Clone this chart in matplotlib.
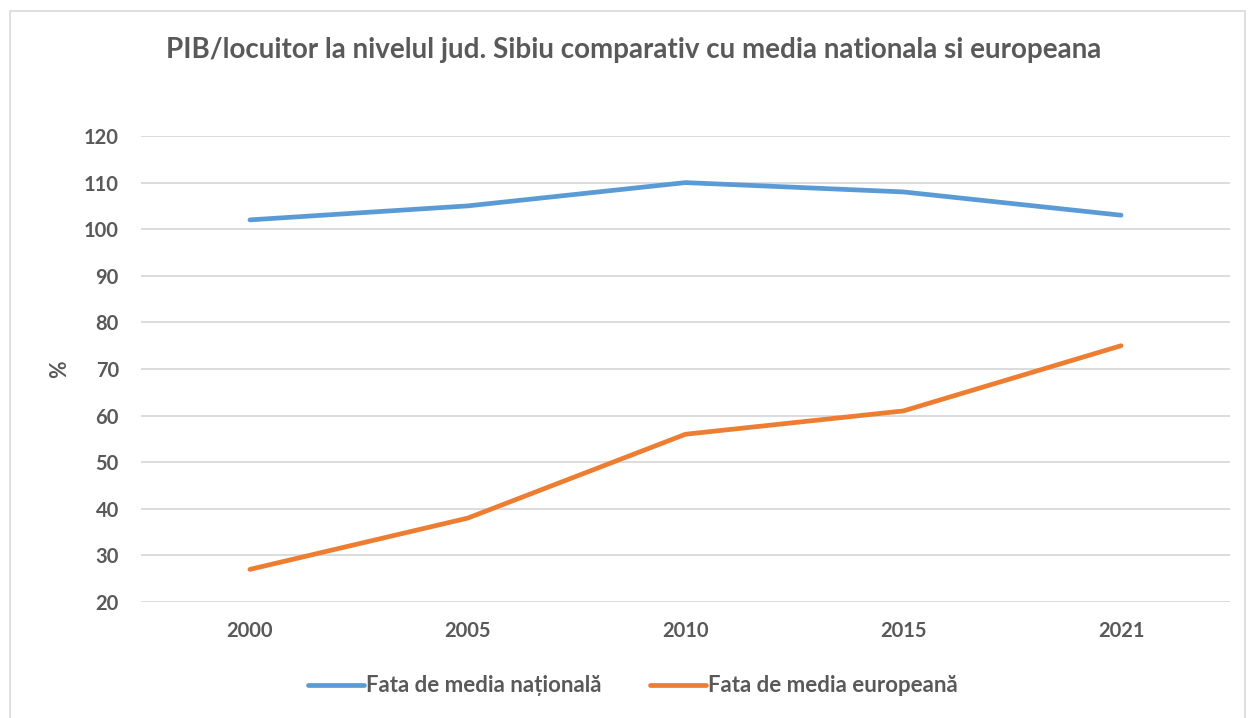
import matplotlib.pyplot as plt
from matplotlib.patches import Rectangle
from matplotlib.lines import Line2D

years = ['2000', '2005', '2010', '2015', '2021']
fata_nationala = [102, 105, 110, 108, 103]
fata_europeana = [27, 38, 56, 61, 75]

blue = '#5B9BD5'
orange = '#ED7D31'
gray = '#595959'

plt.rcParams['font.family'] = ['Lato', 'DejaVu Sans']

W, H = 1248, 718
fig = plt.figure(figsize=(W / 100, H / 100), dpi=100)

# chart frame
fig.patches.append(Rectangle((10 / W, -0.01), 1235 / W, 1 - 11 / H + 0.01,
                             transform=fig.transFigure, fill=False,
                             edgecolor='#D9D9D9', linewidth=1.2))

ax = fig.add_axes([141 / W, 1 - 602 / H, (1230 - 141) / W, (602 - 136) / H])
x = range(len(years))
ax.plot(x, fata_nationala, color=blue, lw=3.4, solid_capstyle='round',
        label='Fata de media națională')
ax.plot(x, fata_europeana, color=orange, lw=3.4, solid_capstyle='round',
        label='Fata de media europeană')

ax.set_xlim(-0.5, len(years) - 0.5)
ax.set_ylim(20, 120)
ax.set_yticks(range(20, 121, 10))
ax.set_xticks(list(x))
ax.set_xticklabels(years)
ax.grid(axis='y', color='#D9D9D9', lw=1.3)
ax.set_axisbelow(True)
for s in ax.spines.values():
    s.set_visible(False)
ax.tick_params(length=0, labelsize=14.5, labelcolor=gray)
ax.tick_params(axis='y', pad=16)
ax.tick_params(axis='x', pad=14)
for lab in ax.get_xticklabels() + ax.get_yticklabels():
    lab.set_fontweight('bold')

ax.set_ylabel('%', fontsize=15.5, fontweight='bold', color=gray, labelpad=10)

fig.text(634 / W, 1 - 50 / H,
         'PIB/locuitor la nivelul jud. Sibiu comparativ cu media nationala si europeana',
         ha='center', va='center', fontsize=20, fontweight='bold', color=gray)

handles = [Line2D([], [], color=blue, lw=3.4, solid_capstyle='round'),
           Line2D([], [], color=orange, lw=3.4, solid_capstyle='round')]
leg = fig.legend(handles, ['Fata de media națională', 'Fata de media europeană'],
                 loc='center', bbox_to_anchor=(633 / W, 1 - 686 / H), ncol=2,
                 frameon=False, handlelength=2.5, handletextpad=0.1,
                 columnspacing=2.2, prop={'size': 16, 'weight': 'bold'})
for t in leg.get_texts():
    t.set_color(gray)

fig.savefig('out.png', dpi=100)
